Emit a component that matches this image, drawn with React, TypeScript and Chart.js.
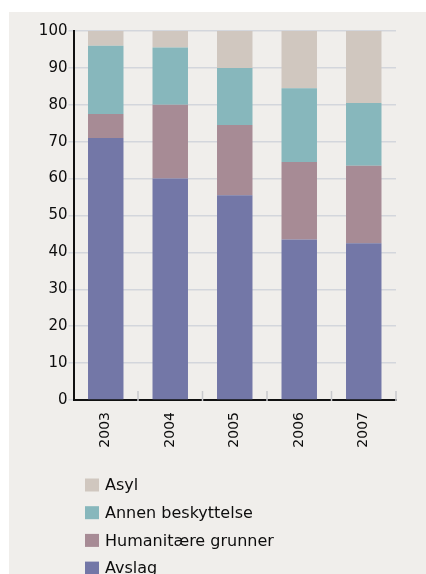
import { useEffect, useRef } from "react";
import { Chart, registerables } from "chart.js";

Chart.register(...registerables);

const years = ["2003", "2004", "2005", "2006", "2007"];
const avslag = [71, 60, 55.5, 43.5, 42.5];
const humanitaere = [6.5, 20, 19, 21, 21];
const annenBeskyttelse = [18.5, 15.5, 15.5, 20, 17];
const asyl = [4, 4.5, 10, 15.5, 19.5];
const seriesLabels = ["Avslag", "Humanitære grunner", "Annen beskyttelse", "Asyl"];
const seriesColors = ["#7377a7", "#a78b95", "#87b7bc", "#d0c7bf"];
const yMin = 0;
const yMax = 100;
const yStep = 10;

const FONT = "'DejaVu Sans', sans-serif";

const boundaryTicks = {
  id: "boundaryTicks",
  afterDatasetsDraw(chart: any) {
    const x = chart.scales.x;
    const { ctx } = chart;
    const n = chart.data.labels.length;
    const bottom = chart.chartArea.bottom;
    ctx.save();
    ctx.strokeStyle = "#c8c9cc";
    ctx.lineWidth = 1.5;
    for (let i = 1; i <= n; i++) {
      const px = x.left + (i * (x.right - x.left)) / n;
      ctx.beginPath();
      ctx.moveTo(px, bottom - 9);
      ctx.lineTo(px, bottom + 1);
      ctx.stroke();
    }
    ctx.restore();
  },
};

const stackLegend = {
  id: "stackLegend",
  afterDraw(chart: any) {
    const { ctx } = chart;
    const items = chart.data.datasets
      .map((d: any) => ({ label: d.label, color: d.backgroundColor }))
      .reverse();
    const top = chart.chartArea.bottom + 85;
    ctx.save();
    ctx.font = `16px ${FONT}`;
    ctx.textBaseline = "middle";
    ctx.textAlign = "left";
    items.forEach((it: any, k: number) => {
      const cy = top + k * 27.7;
      ctx.fillStyle = it.color;
      ctx.fillRect(76, cy - 6.5, 14, 13);
      ctx.fillStyle = "#0d0d0d";
      ctx.fillText(it.label, 96, cy + 1);
    });
    ctx.restore();
  },
};

export default function App() {
  const ref = useRef<HTMLCanvasElement | null>(null);

  useEffect(() => {
    if (!ref.current) return;
    const seriesData = [avslag, humanitaere, annenBeskyttelse, asyl];
    const chart = new Chart(ref.current, {
      type: "bar",
      data: {
        labels: years,
        datasets: seriesData.map((d, i) => ({
          label: seriesLabels[i],
          data: d,
          backgroundColor: seriesColors[i],
          borderWidth: 0,
          categoryPercentage: 1,
          barPercentage: 0.55,
        })),
      },
      options: {
        responsive: false,
        animation: false,
        devicePixelRatio: 1,
        layout: { padding: { left: 0, top: 19, right: 30, bottom: 114 } },
        plugins: {
          legend: { display: false },
          tooltip: { enabled: false },
        },
        scales: {
          x: {
            stacked: true,
            grid: { display: false, drawTicks: false },
            border: { display: true, color: "#111", width: 2 },
            ticks: {
              maxRotation: 90,
              minRotation: 90,
              padding: 12,
              color: "#0d0d0d",
              font: { family: FONT, size: 14 },
            },
            afterFit(scale: any) {
              scale.height = 60;
            },
          },
          y: {
            stacked: true,
            min: yMin,
            max: yMax,
            ticks: {
              stepSize: yStep,
              padding: 1,
              color: "#0d0d0d",
              font: { family: FONT, size: 15 },
            },
            grid: {
              color: "#d3d6dc",
              lineWidth: 1.5,
              tickLength: 5,
              tickColor: "#d3d6dc",
            },
            border: { display: true, color: "#111", width: 2 },
            afterFit(scale: any) {
              scale.width = 64.5;
            },
          },
        },
      },
      plugins: [boundaryTicks, stackLegend],
    });
    return () => chart.destroy();
  }, []);

  return (
    <div
      style={{
        position: "absolute",
        left: 9,
        top: 12,
        width: 417,
        height: 562,
        background: "#f0eeeb",
      }}
    >
      <canvas ref={ref} width={417} height={562} style={{ width: 417, height: 562, display: "block" }} />
    </div>
  );
}
